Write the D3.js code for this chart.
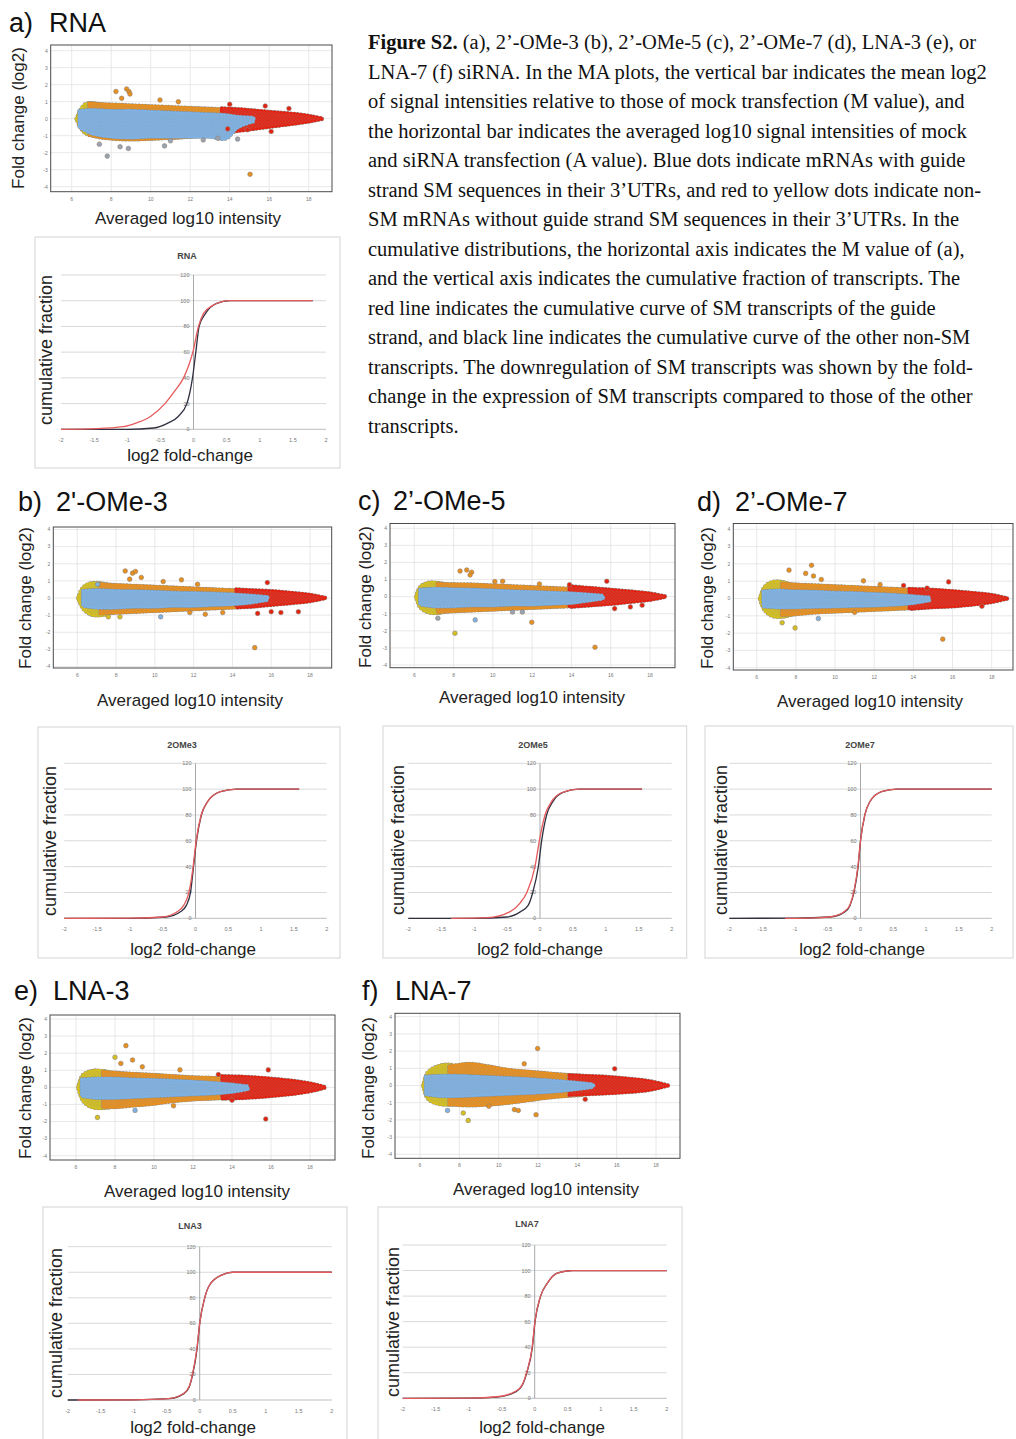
<!DOCTYPE html>
<html>
<head>
<meta charset="utf-8">
<script src="https://cdn.jsdelivr.net/npm/d3@7"></script>
<style>
  body { margin: 0; background: #fff; }
  svg { display: block; }
</style>
</head>
<body>
<svg id="fig" width="1016" height="1439"></svg>
<script>
// ---- tick labels ----
const maXTicks = [6, 8, 10, 12, 14, 16, 18];
const maYTicks = [4, 3, 2, 1, 0, -1, -2, -3, -4];
const cumXTicks = [-2, -1.5, -1, -0.5, 0, 0.5, 1, 1.5, 2];
const cumYTicks = [0, 20, 40, 60, 80, 100, 120];

const panelLetters = ["a)", "b)", "c)", "d)", "e)", "f)"];
const panelNames = ["RNA", "2'-OMe-3", "2\u2019-OMe-5", "2\u2019-OMe-7", "LNA-3", "LNA-7"];
const cumTitles = ["RNA", "2OMe3", "2OMe5", "2OMe7", "LNA3", "LNA7"];

// ---- MA plot clouds: [A value, upper M, lower M] ----
const maRNA_yellow = [[6.25,0,0],[6.45,0.5,-0.5],[6.7,0.85,-0.85],[7.1,0.9,-0.95],[7.6,0.75,-0.85]];
const maRNA_orange = [[6.9,0.9,-0.95],[7.5,0.85,-1.1],[8.5,0.8,-1.2],[9.5,0.75,-1.2],[10.5,0.7,-1.15],[11.5,0.65,-1.1],[12.5,0.6,-1.0],[13.5,0.55,-0.95],[14.2,0.45,-0.8]];
const maRNA_red = [[13.6,0.6,-0.8],[14.5,0.55,-0.7],[15.5,0.45,-0.55],[16.5,0.35,-0.4],[17.5,0.25,-0.25],[18.2,0.12,-0.12],[18.7,0,0]];
const maRNA_blue = [[6.4,0.45,-0.5],[7,0.5,-0.85],[8,0.45,-1.05],[9,0.45,-1.1],[10,0.4,-1.05],[11,0.35,-1.05],[12,0.3,-1.05],[13,0.25,-1.05],[13.8,0.2,-1.15],[14.4,0.1,-0.5],[15.2,0.05,-0.15]];
const maRNA_out = [[8.24,1.6,"o"],[8.78,1.75,"o"],[8.9,1.6,"o"],[8.95,1.45,"o"],[8.53,1.2,"o"],[10.47,1.1,"o"],[11.4,1.0,"o"],[14.0,0.85,"r"],[15.8,0.75,"r"],[17.0,0.6,"r"],[15.03,-3.27,"o"],[7.8,-2.2,"g"],[8.45,-1.65,"g"],[8.87,-1.75,"g"],[7.4,-1.5,"g"],[10.7,-1.6,"g"],[11.0,-1.3,"g"],[12.66,-1.25,"g"],[13.4,-1.15,"g"],[14.4,-1.2,"g"],[13.9,-0.6,"r"],[14.9,-0.65,"r"],[16.1,-0.75,"r"]];

const maOMe3_yellow = [[6.05,0,0],[6.3,0.6,-0.6],[6.7,0.85,-0.95],[7.2,0.85,-1.0],[7.8,0.7,-0.85]];
const maOMe3_orange = [[7.2,0.8,-0.9],[8,0.75,-0.85],[9,0.7,-0.8],[10,0.65,-0.75],[11,0.6,-0.7],[12,0.55,-0.65],[13,0.5,-0.6],[14,0.45,-0.55],[14.7,0.4,-0.5]];
const maOMe3_red = [[14.2,0.5,-0.55],[15,0.45,-0.5],[16,0.4,-0.4],[17,0.3,-0.3],[18,0.18,-0.18],[18.8,0,0]];
const maOMe3_blue = [[6.3,0.4,-0.45],[7,0.45,-0.55],[8,0.4,-0.55],[9,0.38,-0.5],[10,0.35,-0.5],[11,0.3,-0.45],[12,0.28,-0.45],[13,0.25,-0.4],[14,0.2,-0.35],[15,0.12,-0.25],[15.8,0.05,-0.1]];
const maOMe3_out = [[8.47,1.58,"o"],[8.85,1.45,"o"],[9.0,1.55,"o"],[9.3,1.2,"o"],[8.7,1.1,"o"],[10.43,0.96,"o"],[11.37,1.06,"o"],[12.2,0.8,"o"],[15.8,0.9,"r"],[15.15,-2.9,"o"],[7.6,-1.1,"y"],[8.2,-1.1,"y"],[10.3,-1.1,"b"],[7.05,0.8,"b"],[11.8,-0.85,"o"],[12.6,-0.95,"o"],[13.5,-0.85,"o"],[15.3,-0.9,"r"],[16.0,-0.8,"r"],[16.5,-0.85,"r"],[17.4,-0.8,"r"]];

const maOMe5_yellow = [[6.1,0,0],[6.3,0.55,-0.6],[6.7,0.8,-0.9],[7.2,0.8,-0.95],[7.8,0.65,-0.8]];
const maOMe5_orange = [[7.2,0.75,-0.9],[8,0.72,-0.85],[9,0.7,-0.8],[10,0.65,-0.75],[11,0.6,-0.7],[12,0.55,-0.65],[13,0.5,-0.6],[14,0.45,-0.55]];
const maOMe5_red = [[13.9,0.6,-0.6],[15,0.5,-0.5],[16,0.4,-0.42],[17,0.3,-0.3],[18,0.18,-0.18],[18.8,0,0]];
const maOMe5_blue = [[6.3,0.4,-0.45],[7,0.45,-0.55],[8,0.42,-0.55],[9,0.4,-0.5],[10,0.35,-0.5],[11,0.3,-0.45],[12,0.27,-0.45],[13,0.22,-0.4],[14,0.18,-0.35],[15,0.1,-0.2],[15.6,0.05,-0.1]];
const maOMe5_out = [[8.33,1.5,"o"],[8.67,1.56,"o"],[8.92,1.43,"o"],[8.84,1.27,"o"],[10.1,0.88,"o"],[10.5,0.9,"o"],[12.37,0.74,"o"],[13.9,0.7,"r"],[15.8,0.9,"r"],[11.98,-1.5,"o"],[8.07,-2.14,"y"],[9.1,-1.36,"b"],[7.2,-1.26,"g"],[15.2,-2.96,"o"],[16.2,-0.7,"r"],[17.0,-0.6,"r"],[17.6,-0.5,"r"],[11.0,-0.9,"g"],[11.5,-0.9,"g"]];

const maOMe7_yellow = [[6.17,0,0],[6.4,0.65,-0.65],[6.8,0.95,-1.0],[7.3,0.95,-1.05],[7.9,0.75,-0.9]];
const maOMe7_orange = [[7.3,0.85,-0.95],[8,0.8,-0.9],[9,0.75,-0.8],[10,0.7,-0.75],[11,0.65,-0.7],[12,0.6,-0.65],[13,0.55,-0.6],[14,0.5,-0.55]];
const maOMe7_red = [[13.8,0.55,-0.6],[15,0.5,-0.5],[16,0.42,-0.45],[17,0.32,-0.35],[18,0.2,-0.2],[18.8,0,0]];
const maOMe7_blue = [[6.35,0.4,-0.45],[7,0.45,-0.5],[8,0.4,-0.5],[9,0.38,-0.47],[10,0.33,-0.45],[11,0.3,-0.42],[12,0.25,-0.4],[13,0.2,-0.35],[14,0.12,-0.25],[14.8,0.05,-0.1]];
const maOMe7_out = [[7.65,1.64,"o"],[8.8,1.92,"o"],[8.5,1.45,"o"],[8.9,1.3,"o"],[9.3,1.1,"o"],[11.45,1.02,"o"],[12.3,0.8,"o"],[13.5,0.75,"r"],[15.8,0.96,"r"],[15.5,-2.35,"o"],[9.15,-1.16,"b"],[7.96,-1.7,"y"],[7.3,-1.4,"y"],[11.0,-0.8,"o"],[17.5,-0.45,"r"],[14.7,0.6,"r"]];

const maLNA3_yellow = [[6.12,0,0],[6.35,0.7,-0.75],[6.8,0.95,-1.15],[7.4,0.95,-1.2],[8.0,0.8,-1.1]];
const maLNA3_orange = [[7.4,0.9,-1.15],[8,0.85,-1.15],[9,0.78,-1.05],[10,0.72,-0.95],[11,0.65,-0.8],[12,0.58,-0.7],[13,0.55,-0.65],[14,0.5,-0.6]];
const maLNA3_red = [[13.5,0.65,-0.65],[14.5,0.62,-0.62],[15.5,0.55,-0.55],[16.5,0.45,-0.45],[17.5,0.32,-0.32],[18.3,0.15,-0.15],[18.8,0,0]];
const maLNA3_blue = [[6.3,0.45,-0.5],[7,0.5,-0.6],[8,0.5,-0.6],[9,0.45,-0.55],[10,0.42,-0.5],[11,0.38,-0.45],[12,0.32,-0.4],[13,0.25,-0.35],[14,0.15,-0.25],[14.8,0.05,-0.1]];
const maLNA3_out = [[8.56,2.44,"o"],[8.0,1.76,"y"],[8.9,1.6,"o"],[8.3,1.4,"o"],[9.4,1.2,"o"],[11.33,1.02,"o"],[15.86,1.02,"r"],[7.1,-1.76,"y"],[9.03,-1.35,"b"],[15.73,-1.85,"r"],[11.0,-1.08,"o"],[13.3,0.75,"r"],[14.0,-0.75,"r"]];

const maLNA7_yellow = [[6.17,0,0],[6.4,0.75,-0.75],[6.9,1.1,-1.05],[7.5,1.2,-1.1],[8.1,1.0,-1.0]];
const maLNA7_orange = [[7.5,1.1,-1.1],[8.5,1.25,-1.15],[9.5,1.1,-1.1],[10.5,0.9,-1.0],[11.5,0.8,-0.85],[12.5,0.7,-0.7],[13.5,0.6,-0.6],[14.2,0.55,-0.55]];
const maLNA7_red = [[13.6,0.6,-0.55],[14.5,0.55,-0.5],[15.5,0.5,-0.45],[16.5,0.4,-0.38],[17.5,0.28,-0.28],[18.2,0.12,-0.12],[18.6,0,0]];
const maLNA7_blue = [[6.3,0.5,-0.5],[7,0.55,-0.6],[8,0.55,-0.6],[9,0.5,-0.55],[10,0.45,-0.5],[11,0.4,-0.45],[12,0.33,-0.4],[13,0.25,-0.32],[14,0.15,-0.2],[14.8,0.05,-0.08]];
const maLNA7_out = [[11.98,2.15,"o"],[11.3,1.26,"o"],[15.9,0.97,"r"],[8.45,-2.03,"y"],[8.2,-1.6,"y"],[11.9,-1.7,"o"],[10.8,-1.4,"o"],[11.0,-1.45,"o"],[14.4,-0.8,"r"],[7.4,-1.45,"b"],[9.5,-1.2,"o"]];

// ---- cumulative curves: [log2 fold-change, cumulative %] ----
const cumRNA_red = [[-2,0],[-1.46,0.5],[-1.06,2],[-0.86,5],[-0.65,10],[-0.43,20],[-0.28,30],[-0.15,40],[-0.07,50],[-0.01,60],[0.075,80],[0.15,90],[0.28,96],[0.55,100],[1.8,100]];
const cumRNA_black = [[-2,0],[-1,0],[-0.6,1],[-0.38,5],[-0.23,10],[-0.1,20],[-0.015,40],[0.035,60],[0.085,80],[0.18,90],[0.35,98],[0.55,100],[1.8,100]];
const cumOMe3_red = [[-2,0],[-1,0.2],[-0.5,1],[-0.28,5],[-0.18,10],[-0.1,20],[-0.036,40],[0.01,60],[0.086,80],[0.18,90],[0.38,98],[0.63,100],[1.58,100]];
const cumOMe3_black = [[-2,0],[-1,0],[-0.45,1],[-0.23,5],[-0.14,10],[-0.076,20],[-0.03,40],[0.015,60],[0.09,80],[0.18,90],[0.38,98],[0.63,100],[1.58,100]];
const cumOMe5_red = [[-1.35,0],[-0.8,0.5],[-0.46,5],[-0.3,12],[-0.2,20],[-0.076,40],[-0.01,60],[0.076,80],[0.17,90],[0.32,97],[0.6,100],[1.55,100]];
const cumOMe5_black = [[-2,0],[-1,0],[-0.5,1],[-0.3,5],[-0.18,10],[-0.11,20],[-0.025,40],[0.025,60],[0.1,80],[0.19,90],[0.35,97.5],[0.6,100],[1.55,100]];
const cumOMe7_red = [[-1.15,0],[-0.6,0.6],[-0.45,1.2],[-0.24,5.5],[-0.16,10.5],[-0.1,21],[-0.038,41],[0,60],[0.066,80],[0.14,90],[0.32,98],[0.55,100],[2,100]];
const cumOMe7_black = [[-2,0],[-1,0.1],[-0.47,1],[-0.24,5],[-0.16,10],[-0.1,20],[-0.036,40],[0,60],[0.066,80],[0.14,90],[0.32,98],[0.55,100],[2,100]];
const cumLNA3_red = [[-1.85,0],[-1,0.15],[-0.47,1.1],[-0.24,5.3],[-0.16,10.5],[-0.108,20.5],[-0.042,40.5],[0,60],[0.076,80],[0.15,90],[0.34,98],[0.5,100],[2,100]];
const cumLNA3_black = [[-2,0],[-1,0.1],[-0.47,1],[-0.24,5],[-0.16,10],[-0.106,20],[-0.04,40],[0,60],[0.076,80],[0.15,90],[0.34,98],[0.5,100],[2,100]];
const cumLNA7_red = [[-2,0],[-1,0.2],[-0.57,1.2],[-0.29,5.5],[-0.19,10.5],[-0.12,20.5],[-0.038,40],[0.003,60],[0.088,80],[0.19,90],[0.34,98],[0.57,100],[2,100]];
const cumLNA7_black = [[-2,0],[-1,0.1],[-0.57,1],[-0.29,5],[-0.19,10],[-0.12,20],[-0.035,40],[0.005,60],[0.09,80],[0.19,90],[0.34,98],[0.57,100],[2,100]];

const captionLines = [
  " (a), 2\u2019-OMe-3 (b), 2\u2019-OMe-5 (c), 2\u2019-OMe-7 (d), LNA-3 (e), or",
  "LNA-7 (f) siRNA. In the MA plots, the vertical bar indicates the mean log2",
  "of signal intensities relative to those of mock transfection (M value), and",
  "the horizontal bar indicates the averaged log10 signal intensities of mock",
  "and siRNA transfection (A value). Blue dots indicate mRNAs with guide",
  "strand SM sequences in their 3\u2019UTRs, and red to yellow dots indicate non-",
  "SM mRNAs without guide strand SM sequences in their 3\u2019UTRs. In the",
  "cumulative distributions, the horizontal axis indicates the M value of (a),",
  "and the vertical axis indicates the cumulative fraction of transcripts. The",
  "red line indicates the cumulative curve of SM transcripts of the guide",
  "strand, and black line indicates the cumulative curve of the other non-SM",
  "transcripts. The downregulation of SM transcripts was shown by the fold-",
  "change in the expression of SM transcripts compared to those of the other",
  "transcripts."
];

const maClouds = [
  [maRNA_yellow, maRNA_orange, maRNA_red, maRNA_blue],
  [maOMe3_yellow, maOMe3_orange, maOMe3_red, maOMe3_blue],
  [maOMe5_yellow, maOMe5_orange, maOMe5_red, maOMe5_blue],
  [maOMe7_yellow, maOMe7_orange, maOMe7_red, maOMe7_blue],
  [maLNA3_yellow, maLNA3_orange, maLNA3_red, maLNA3_blue],
  [maLNA7_yellow, maLNA7_orange, maLNA7_red, maLNA7_blue]
];
const maOutliers = [maRNA_out, maOMe3_out, maOMe5_out, maOMe7_out, maLNA3_out, maLNA7_out];
const cumCurves = [
  [cumRNA_black, cumRNA_red], [cumOMe3_black, cumOMe3_red], [cumOMe5_black, cumOMe5_red],
  [cumOMe7_black, cumOMe7_red], [cumLNA3_black, cumLNA3_red], [cumLNA7_black, cumLNA7_red]
];

// ---- layout (pixels) ----
const maLayout = [
  {left:50.7, right:332, top:45, bottom:191.7, x6:71.7, x18:308.7, y4:50.7, yM4:186.7, lx:9, nx:49, ty:32, xlx:188, xly:224, ylx:18, yly:118},
  {left:53.3, right:331.7, top:527, bottom:668, x6:77.3, x18:310, y4:529.5, yM4:666.5, lx:18, nx:56, ty:511, xlx:190, xly:706, ylx:25, yly:598},
  {left:390, right:675, top:523.5, bottom:667.7, x6:414.3, x18:650, y4:528.3, yM4:665, lx:358, nx:393, ty:510, xlx:532, xly:703, ylx:365, yly:597},
  {left:733.3, right:1013, top:523.5, bottom:670, x6:756.7, x18:991.7, y4:529.3, yM4:667.7, lx:697, nx:735, ty:511, xlx:870, xly:707, ylx:707, yly:598},
  {left:50, right:335, top:1015, bottom:1160, x6:76, x18:310, y4:1019, yM4:1155.7, lx:14, nx:53, ty:1000, xlx:197, xly:1197, ylx:25, yly:1088},
  {left:395, right:680, top:1013.3, bottom:1158.3, x6:420, x18:656, y4:1016.7, yM4:1154.3, lx:362, nx:395, ty:1000, xlx:546, xly:1195, ylx:368, yly:1088}
];
const cumLayout = [
  {left:35, right:340, top:237, bottom:468, xm2:61, x2:326, y0:429.3, y120:275, tx:187, ty:259, xlx:190, xly:461, ylx:46, yly:350},
  {left:38, right:340, top:727, bottom:958, xm2:64.3, x2:326.7, y0:918.3, y120:763.3, tx:182, ty:748, xlx:193, xly:955, ylx:50, yly:841},
  {left:383, right:686.7, top:726, bottom:958, xm2:408.3, x2:671.7, y0:918.3, y120:763.3, tx:533, ty:748, xlx:540, xly:955, ylx:398, yly:840},
  {left:705, right:1013, top:726, bottom:958, xm2:729.3, x2:991.7, y0:918.3, y120:763.3, tx:860, ty:748, xlx:862, xly:955, ylx:721, yly:840},
  {left:43, right:347, top:1207, bottom:1445, xm2:67.7, x2:331.7, y0:1400, y120:1246.7, tx:190, ty:1229, xlx:193, xly:1433, ylx:56, yly:1323},
  {left:378, right:682, top:1207, bottom:1445, xm2:402.7, x2:666.7, y0:1398.3, y120:1245, tx:527, ty:1227, xlx:542, xly:1433, ylx:393, yly:1322}
];

const dotColor = { y: "#d6c11d", o: "#e98f1c", r: "#e6200f", b: "#7db3e6", g: "#98a4b2" };
const cloudColor = ["#d6c11d", "#e98f1c", "#e6200f", "#7db3e6"];
const SANS = "'Liberation Sans', Arial, sans-serif";

const svg = d3.select("#fig");

// dotted textures for the dense point clouds
const defs = svg.append("defs");
cloudColor.forEach((c, k) => {
  const p = defs.append("pattern").attr("id", "tex" + k)
    .attr("patternUnits", "userSpaceOnUse").attr("width", 3.4).attr("height", 3.4);
  p.append("rect").attr("width", 3.4).attr("height", 3.4).attr("fill", c);
  p.append("circle").attr("cx", 1.7).attr("cy", 1.7).attr("r", 1.35)
    .attr("fill", c).attr("stroke", "#8f8f8f").attr("stroke-width", 0.3).attr("stroke-opacity", 0.7);
});

function drawMA(i) {
  const L = maLayout[i];
  const g = svg.append("g");
  const x = d3.scaleLinear().domain([6, 18]).range([L.x6, L.x18]);
  const y = d3.scaleLinear().domain([-4, 4]).range([L.yM4, L.y4]);

  g.append("clipPath").attr("id", "clip" + i)
    .append("rect").attr("x", L.left).attr("y", L.top)
    .attr("width", L.right - L.left).attr("height", L.bottom - L.top);

  // grid
  g.selectAll("line.gx").data(maXTicks).join("line")
    .attr("x1", d => x(d)).attr("x2", d => x(d)).attr("y1", L.top).attr("y2", L.bottom)
    .attr("stroke", "#e2e2e2").attr("stroke-width", 0.8);
  g.selectAll("line.gy").data(maYTicks).join("line")
    .attr("y1", d => y(d)).attr("y2", d => y(d)).attr("x1", L.left).attr("x2", L.right)
    .attr("stroke", "#e2e2e2").attr("stroke-width", 0.8);

  const body = g.append("g").attr("clip-path", `url(#clip${i})`);
  const area = d3.area()
    .x(d => x(d[0])).y0(d => y(d[2])).y1(d => y(d[1]))
    .curve(d3.curveCatmullRom);
  maClouds[i].forEach((cloud, k) => {
    // ringed dots along the edge, then a dotted fill
    body.append("path").datum(cloud).attr("d", area)
      .attr("fill", "none").attr("stroke", "#8c8c8c").attr("stroke-width", 4.6)
      .attr("stroke-linecap", "round").attr("stroke-dasharray", "0 3.3");
    body.append("path").datum(cloud).attr("d", area)
      .attr("fill", "none").attr("stroke", cloudColor[k]).attr("stroke-width", 3.8)
      .attr("stroke-linecap", "round").attr("stroke-dasharray", "0 3.3");
    body.append("path").datum(cloud).attr("d", area)
      .attr("fill", `url(#tex${k})`).attr("stroke", "none");
  });
  body.selectAll("circle").data(maOutliers[i]).join("circle")
    .attr("cx", d => x(d[0])).attr("cy", d => y(d[1])).attr("r", 2.3)
    .attr("fill", d => dotColor[d[2]]).attr("stroke", "#8d7f74").attr("stroke-width", 0.6);

  g.append("rect").attr("x", L.left).attr("y", L.top)
    .attr("width", L.right - L.left).attr("height", L.bottom - L.top)
    .attr("fill", "none").attr("stroke", "#4a4a4a").attr("stroke-width", 1);

  // tick labels
  g.selectAll("text.ty").data(maYTicks).join("text")
    .attr("x", L.left - 3).attr("y", d => y(d) + 1.8).attr("text-anchor", "end")
    .attr("font-family", SANS).attr("font-size", 5).attr("fill", "#777").text(d => d);
  g.selectAll("text.tx").data(maXTicks).join("text")
    .attr("x", d => x(d)).attr("y", L.bottom + 9).attr("text-anchor", "middle")
    .attr("font-family", SANS).attr("font-size", 5).attr("fill", "#777").text(d => d);

  // titles
  g.append("text").attr("x", L.lx).attr("y", L.ty).attr("font-family", SANS)
    .attr("font-size", 27).attr("fill", "#111").text(panelLetters[i]);
  g.append("text").attr("x", L.nx).attr("y", L.ty).attr("font-family", SANS)
    .attr("font-size", 27).attr("fill", "#111").text(panelNames[i]);
  g.append("text").attr("x", L.xlx).attr("y", L.xly).attr("text-anchor", "middle")
    .attr("font-family", SANS).attr("font-size", 17).attr("fill", "#222")
    .text("Averaged log10 intensity");
  g.append("text").attr("transform", `translate(${L.ylx},${L.yly}) rotate(-90)`)
    .attr("text-anchor", "middle").attr("dominant-baseline", "central")
    .attr("font-family", SANS).attr("font-size", 17).attr("fill", "#222")
    .text("Fold change (log2)");
}

function drawCum(i) {
  const L = cumLayout[i];
  const g = svg.append("g");
  const x = d3.scaleLinear().domain([-2, 2]).range([L.xm2, L.x2]);
  const y = d3.scaleLinear().domain([0, 120]).range([L.y0, L.y120]);

  g.append("rect").attr("x", L.left).attr("y", L.top)
    .attr("width", L.right - L.left).attr("height", L.bottom - L.top)
    .attr("fill", "#fff").attr("stroke", "#d4d4d4").attr("stroke-width", 1);

  g.selectAll("line.gy").data(cumYTicks.filter(d => d > 0)).join("line")
    .attr("x1", x(-2)).attr("x2", x(2)).attr("y1", d => y(d)).attr("y2", d => y(d))
    .attr("stroke", "#d9d9d9").attr("stroke-width", 1);
  g.append("line").attr("x1", x(-2)).attr("x2", x(2)).attr("y1", y(0)).attr("y2", y(0))
    .attr("stroke", "#bdbdbd").attr("stroke-width", 1);
  g.append("line").attr("x1", x(0)).attr("x2", x(0)).attr("y1", y(0)).attr("y2", y(120))
    .attr("stroke", "#a8a8a8").attr("stroke-width", 1);

  g.selectAll("text.ty").data(cumYTicks).join("text")
    .attr("x", x(0) - 4).attr("y", d => y(d) + 2).attr("text-anchor", "end")
    .attr("font-family", SANS).attr("font-size", 5.5).attr("fill", "#777").text(d => d);
  g.selectAll("text.tx").data(cumXTicks).join("text")
    .attr("x", d => x(d)).attr("y", y(0) + 13).attr("text-anchor", "middle")
    .attr("font-family", SANS).attr("font-size", 5.5).attr("fill", "#777").text(d => d);

  const line = d3.line().x(d => x(d[0])).y(d => y(d[1])).curve(d3.curveMonotoneX);
  const [black, red] = cumCurves[i];
  g.append("path").datum(black).attr("d", line).attr("fill", "none")
    .attr("stroke", "#2f3140").attr("stroke-width", 1.3);
  g.append("path").datum(red).attr("d", line).attr("fill", "none")
    .attr("stroke", "#e55a5c").attr("stroke-width", 1.3);

  g.append("text").attr("x", L.tx).attr("y", L.ty).attr("text-anchor", "middle")
    .attr("font-family", SANS).attr("font-weight", "bold").attr("font-size", 9)
    .attr("fill", "#444").text(cumTitles[i]);
  g.append("text").attr("x", L.xlx).attr("y", L.xly).attr("text-anchor", "middle")
    .attr("font-family", SANS).attr("font-size", 17).attr("fill", "#222")
    .text("log2 fold-change");
  g.append("text").attr("transform", `translate(${L.ylx},${L.yly}) rotate(-90)`)
    .attr("text-anchor", "middle").attr("dominant-baseline", "central")
    .attr("font-family", SANS).attr("font-size", 18).attr("fill", "#222")
    .text("cumulative fraction");
}

d3.range(6).forEach(i => { drawMA(i); drawCum(i); });

// caption
const cap = svg.append("g").attr("font-family", "'Liberation Serif', 'Times New Roman', serif")
  .attr("font-size", 20.5).attr("fill", "#111");
cap.selectAll("text").data(captionLines).join("text")
  .attr("x", 368).attr("y", (d, k) => 49 + k * 29.5)
  .each(function (d, k) {
    const t = d3.select(this);
    if (k === 0) {
      t.append("tspan").attr("font-weight", "bold").text("Figure S2.");
      t.append("tspan").text(d);
    } else {
      t.text(d);
    }
  });
</script>
</body>
</html>
